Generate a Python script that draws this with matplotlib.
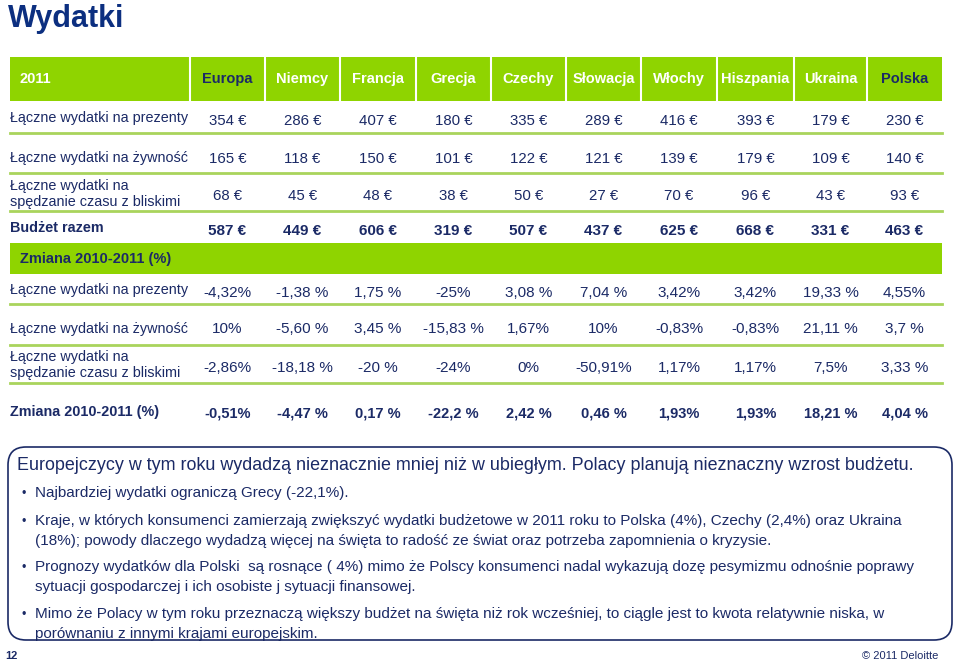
import matplotlib
matplotlib.use("Agg")
import matplotlib.pyplot as plt
from matplotlib.patches import Rectangle, FancyBboxPatch

plt.rcParams['font.family'] = ['Liberation Sans', 'DejaVu Sans']

# dane
kraje = ["Europa", "Niemcy", "Francja", "Grecja", "Czechy", "Słowacja",
         "Włochy", "Hiszpania", "Ukraina", "Polska"]

prezenty = [354, 286, 407, 180, 335, 289, 416, 393, 179, 230]
zywnosc = [165, 118, 150, 101, 122, 121, 139, 179, 109, 140]
bliscy = [68, 45, 48, 38, 50, 27, 70, 96, 43, 93]
budzet = [587, 449, 606, 319, 507, 437, 625, 668, 331, 463]

zm_prezenty = ["-4,32%", "-1,38 %", "1,75 %", "-25%", "3,08 %", "7,04 %",
               "3,42%", "3,42%", "19,33 %", "4,55%"]
zm_zywnosc = ["10%", "-5,60 %", "3,45 %", "-15,83 %", "1,67%", "10%",
              "-0,83%", "-0,83%", "21,11 %", "3,7 %"]
zm_bliscy = ["-2,86%", "-18,18 %", "-20 %", "-24%", "0%", "-50,91%",
             "1,17%", "1,17%", "7,5%", "3,33 %"]
zm_razem = ["-0,51%", "-4,47 %", "0,17 %", "-22,2 %", "2,42 %", "0,46 %",
            "1,93%", "1,93%", "18,21 %", "4,04 %"]

etykiety = ["Łączne wydatki na prezenty", "Łączne wydatki na żywność",
            "Łączne wydatki na\nspędzanie czasu z bliskimi"]

naglowek = "Europejczycy w tym roku wydadzą nieznacznie mniej niż w ubiegłym. Polacy planują nieznaczny wzrost budżetu."
punkty = [
    "Najbardziej wydatki ograniczą Grecy (-22,1%).",
    "Kraje, w których konsumenci zamierzają zwiększyć wydatki budżetowe w 2011 roku to Polska (4%), Czechy (2,4%) oraz Ukraina\n(18%); powody dlaczego wydadzą więcej na święta to radość ze świat oraz potrzeba zapomnienia o kryzysie.",
    "Prognozy wydatków dla Polski  są rosnące ( 4%) mimo że Polscy konsumenci nadal wykazują dozę pesymizmu odnośnie poprawy\nsytuacji gospodarczej i ich osobiste j sytuacji finansowej.",
    "Mimo że Polacy w tym roku przeznaczą większy budżet na święta niż rok wcześniej, to ciągle jest to kwota relatywnie niska, w\nporównaniu z innymi krajami europejskim.",
]

granatowy = "#1b2a66"
tytul_kolor = "#0c2f80"
zielony = "#8fd400"
linia = "#a9d45c"

fig = plt.figure(figsize=(9.6, 6.62), dpi=100)
ax = fig.add_axes([0, 0, 1, 1])
ax.set_xlim(0, 960)
ax.set_ylim(662, 0)
ax.axis("off")

ax.text(8, 19, "Wydatki", fontsize=22, fontweight="bold", color=tytul_kolor,
        va="center", ha="left")

# naglowek tabeli
x0, x1 = 10, 942
sep = [190, 265, 340, 416, 491, 566, 641, 717, 794, 867, 942]
srodki = [(sep[i] + sep[i + 1]) / 2 for i in range(len(kraje))]

ax.add_patch(Rectangle((x0, 57), x1 - x0, 44, color=zielony, lw=0))
for s in sep[:-1]:
    ax.plot([s, s], [57, 101], color="white", lw=1.5)
ax.text(20, 79, "2011", fontsize=10.5, fontweight="bold", color="white", va="center")
for i, k in enumerate(kraje):
    c = granatowy if k in ("Europa", "Polska") else "white"
    ax.text(srodki[i], 79, k, fontsize=10.5, fontweight="bold", color=c,
            ha="center", va="center")

fs_lab = 10.4


def wiersz(y_lab, y_val, etykieta, wartosci, bold=False, y_lin=None, fs_val=10.8):
    w = "bold" if bold else "normal"
    ax.text(x0, y_lab, etykieta, fontsize=fs_lab, fontweight=w, color=granatowy,
            va="center", ha="left", linespacing=1.1)
    for i, v in enumerate(wartosci):
        ax.text(srodki[i], y_val, v, fontsize=fs_val, fontweight=w, color=granatowy,
                ha="center", va="center")
    if y_lin is not None:
        ax.plot([x0, x1], [y_lin, y_lin], color=linia, lw=2)


wiersz(118, 121, etykiety[0], [f"{v} €" for v in prezenty], y_lin=133)
wiersz(158, 159, etykiety[1], [f"{v} €" for v in zywnosc], y_lin=173)
wiersz(194, 196, etykiety[2], [f"{v} €" for v in bliscy], y_lin=211)
wiersz(228, 231, "Budżet razem", [f"{v} €" for v in budzet], bold=True, fs_val=11)

ax.add_patch(Rectangle((x0, 243), x1 - x0, 31, color=zielony, lw=0))
ax.text(20, 259, "Zmiana 2010-2011 (%)", fontsize=10.5, fontweight="bold",
        color=granatowy, va="center")

wiersz(290, 293, etykiety[0], zm_prezenty, y_lin=304, fs_val=11)
wiersz(329, 329, etykiety[1], zm_zywnosc, y_lin=345, fs_val=11)
wiersz(365, 368, etykiety[2], zm_bliscy, y_lin=383, fs_val=11)
wiersz(412, 414, "Zmiana 2010-2011 (%)", zm_razem, bold=True, fs_val=10.5)

# ramka z komentarzem
ax.add_patch(FancyBboxPatch((8, 447), 944, 193,
                            boxstyle="round,pad=0,rounding_size=18",
                            fc="white", ec=granatowy, lw=1.2))
ax.text(17, 466, naglowek, fontsize=12.9, color=granatowy, va="center")
ys = [493, 521, 567, 614]
for y, p in zip(ys, punkty):
    ax.text(22, y + 1, "•", fontsize=9, color=granatowy, va="center")
    for j, l in enumerate(p.split("\n")):
        ax.text(35, y + j * 20, l, fontsize=11, color=granatowy, va="center")

ax.text(5, 656, "12", fontsize=8, fontweight="bold", color=granatowy, va="center")
ax.text(938, 656, "© 2011 Deloitte", fontsize=8, color=granatowy, va="center",
        ha="right")

fig.savefig("out.png", dpi=100)
